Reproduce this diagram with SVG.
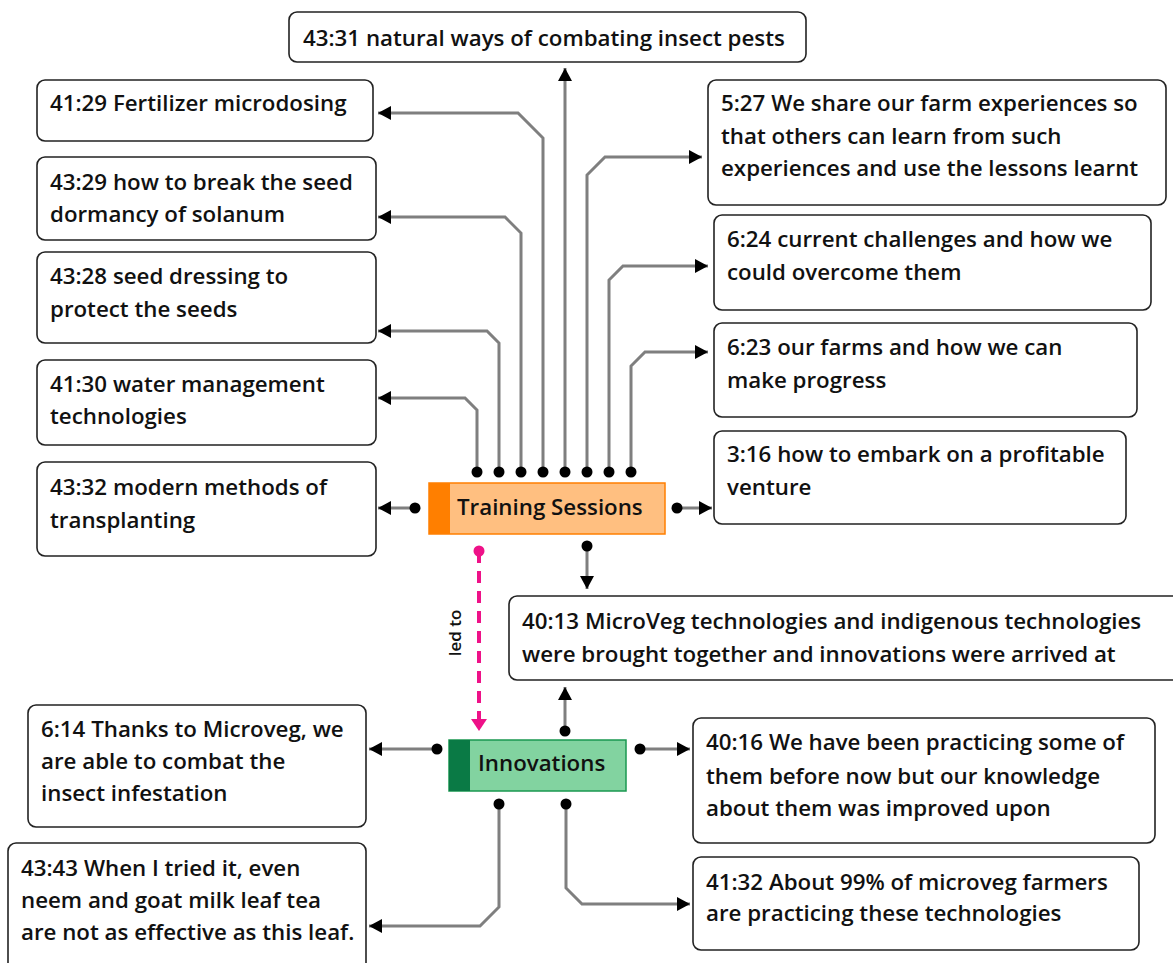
<svg xmlns="http://www.w3.org/2000/svg" width="1173" height="963" viewBox="0 0 1173 963">
<style>
.box{fill:#fff;stroke:#222;stroke-width:1.6}
.t{font-family:"Open Sans","Liberation Sans",sans-serif;font-weight:600;font-size:22.3px;fill:#111}
.c{fill:none;stroke:#7f7f7f;stroke-width:3;marker-start:url(#dot);marker-end:url(#arr)}
.p{fill:none;stroke:#ee1188;stroke-width:4;stroke-dasharray:12,8;marker-start:url(#pdot);marker-end:url(#parr)}
</style>
<defs>
<marker id="arr" markerUnits="userSpaceOnUse" markerWidth="16" markerHeight="16" refX="13" refY="7" orient="auto"><path d="M0,0 L13,7 L0,14 Z" fill="#000"/></marker>
<marker id="dot" markerUnits="userSpaceOnUse" markerWidth="14" markerHeight="14" refX="7" refY="7"><circle cx="7" cy="7" r="5.5" fill="#000"/></marker>
<marker id="parr" markerUnits="userSpaceOnUse" markerWidth="18" markerHeight="18" refX="12" refY="8" orient="auto"><path d="M0,0 L12,8 L0,16 Z" fill="#ee1188"/></marker>
<marker id="pdot" markerUnits="userSpaceOnUse" markerWidth="14" markerHeight="14" refX="7" refY="7"><circle cx="7" cy="7" r="5.5" fill="#ee1188"/></marker>
</defs>

<g id="connectors">
<path class="c" d="M477,472 V410 L465,398 H378"/>
<path class="c" d="M499,472 V343 L487,331 H378"/>
<path class="c" d="M521,472 V233 L505,217 H378"/>
<path class="c" d="M543,472 V138 L518,113 H378"/>
<path class="c" d="M565,472 V68"/>
<path class="c" d="M587,472 V175 L605,157 H702"/>
<path class="c" d="M609,472 V280 L623,266 H708"/>
<path class="c" d="M631,472 V366 L645,352 H708"/>
<path class="c" d="M415,508 H378"/>
<path class="c" d="M677,508 H712"/>
<path class="c" d="M587,546 V589"/>
<path class="p" d="M479,551 V731"/>
<text transform="translate(461,633) rotate(-90)" text-anchor="middle" style="font-family:'Open Sans','Liberation Sans',sans-serif;font-weight:600;font-size:17px;fill:#111">led to</text>
<path class="c" d="M565,731 V687"/>
<path class="c" d="M437,749 H369"/>
<path class="c" d="M640,749 H690"/>
<path class="c" d="M499,804 V907 L480,926 H369"/>
<path class="c" d="M566,804 V888 L582,904 H690"/>
</g>

<g id="n4331"><rect class="box" x="289" y="12" width="517" height="50" rx="8"/><text class="t" x="303" y="46">43:31 natural ways of combating insect pests</text></g>
<g id="n4129"><rect class="box" x="37" y="80" width="336" height="61" rx="8"/><text class="t" x="50" y="111">41:29 Fertilizer microdosing</text></g>
<g id="n4329"><rect class="box" x="37" y="157" width="339" height="83" rx="8"/><text class="t" x="50" y="190">43:29 how to break the seed</text><text class="t" x="50" y="222">dormancy of solanum</text></g>
<g id="n4328"><rect class="box" x="37" y="252" width="339" height="91" rx="8"/><text class="t" x="50" y="284">43:28 seed dressing to</text><text class="t" x="50" y="317">protect the seeds</text></g>
<g id="n4130"><rect class="box" x="37" y="360" width="339" height="85" rx="8"/><text class="t" x="50" y="392">41:30 water management</text><text class="t" x="50" y="424">technologies</text></g>
<g id="n4332"><rect class="box" x="37" y="462" width="339" height="94" rx="8"/><text class="t" x="50" y="495">43:32 modern methods of</text><text class="t" x="50" y="528">transplanting</text></g>

<g id="n527"><rect class="box" x="708" y="80" width="458" height="125" rx="8"/><text class="t" x="721" y="111">5:27 We share our farm experiences so</text><text class="t" x="721" y="144">that others can learn from such</text><text class="t" x="721" y="176">experiences and use the lessons learnt</text></g>
<g id="n624"><rect class="box" x="714" y="215" width="437" height="95" rx="8"/><text class="t" x="727" y="247">6:24 current challenges and how we</text><text class="t" x="727" y="280">could overcome them</text></g>
<g id="n623"><rect class="box" x="714" y="323" width="423" height="94" rx="8"/><text class="t" x="727" y="355">6:23 our farms and how we can</text><text class="t" x="727" y="388">make progress</text></g>
<g id="n316"><rect class="box" x="714" y="431" width="412" height="93" rx="8"/><text class="t" x="727" y="462">3:16 how to embark on a profitable</text><text class="t" x="727" y="495">venture</text></g>

<g id="training"><rect x="429" y="483" width="236" height="51" fill="#ffbf80" stroke="#ff7f00" stroke-width="1.5"/><rect x="429" y="483" width="21" height="51" fill="#ff7f00"/><text class="t" x="457" y="515">Training Sessions</text></g>

<g id="n4013"><rect class="box" x="509" y="596" width="675" height="84" rx="8"/><text class="t" x="522" y="629">40:13 MicroVeg technologies and indigenous technologies</text><text class="t" x="522" y="662">were brought together and innovations were arrived at</text></g>

<g id="innovations"><rect x="449" y="740" width="177" height="51" fill="#82d3a0" stroke="#1a9850" stroke-width="1.5"/><rect x="449" y="740" width="21" height="51" fill="#0a7a45"/><text class="t" x="478" y="771">Innovations</text></g>

<g id="n614"><rect class="box" x="28" y="705" width="338" height="122" rx="8"/><text class="t" x="41" y="737">6:14 Thanks to Microveg, we</text><text class="t" x="41" y="769">are able to combat the</text><text class="t" x="41" y="801">insect infestation</text></g>
<g id="n4343"><rect class="box" x="8" y="843" width="358" height="128" rx="8"/><text class="t" x="21" y="876">43:43 When I tried it, even</text><text class="t" x="21" y="908">neem and goat milk leaf tea</text><text class="t" x="21" y="940">are not as effective as this leaf.</text></g>
<g id="n4016"><rect class="box" x="693" y="718" width="462" height="125" rx="8"/><text class="t" x="706" y="750">40:16 We have been practicing some of</text><text class="t" x="706" y="784">them before now but our knowledge</text><text class="t" x="706" y="816">about them was improved upon</text></g>
<g id="n4132"><rect class="box" x="693" y="857" width="446" height="93" rx="8"/><text class="t" x="706" y="890">41:32 About 99% of microveg farmers</text><text class="t" x="706" y="921">are practicing these technologies</text></g>
</svg>
